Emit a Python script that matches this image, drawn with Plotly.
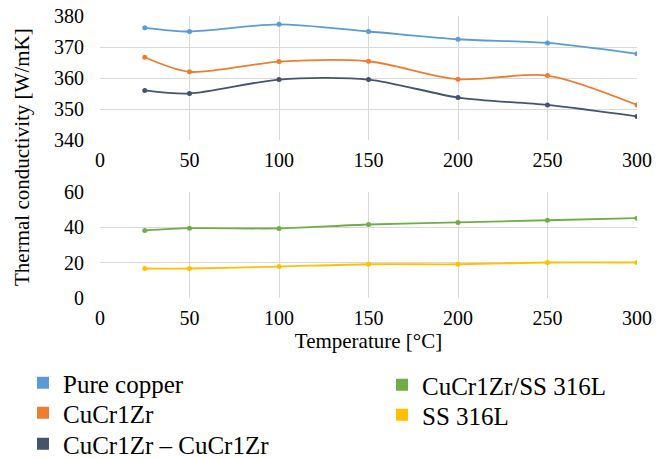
import plotly.graph_objects as go

temps = [25, 50, 100, 150, 200, 250, 300]
pure_copper = [376.2, 375.0, 377.3, 375.0, 372.5, 371.3, 367.8]
cucr1zr = [366.7, 362.0, 365.3, 365.4, 359.6, 360.8, 351.3]
cucr1zr_cucr1zr = [356.0, 355.0, 359.5, 359.5, 353.7, 351.3, 347.6]
cucr1zr_ss = [38.2, 39.5, 39.4, 41.6, 42.8, 44.0, 45.2]
ss316l = [16.7, 16.7, 17.8, 19.1, 19.1, 20.1, 20.1]
x_ticks = [0, 50, 100, 150, 200, 250, 300]
y_ticks_top = [340, 350, 360, 370, 380]
y_ticks_bottom = [0, 20, 40, 60]

top_series = [("Pure copper", pure_copper, "#5B9BD5"),
              ("CuCr1Zr", cucr1zr, "#ED7D31"),
              ("CuCr1Zr – CuCr1Zr", cucr1zr_cucr1zr, "#44546A")]
bot_series = [("CuCr1Zr/SS 316L", cucr1zr_ss, "#70AD47"),
              ("SS 316L", ss316l, "#FFC000")]

FONT = "Liberation Serif, Times New Roman, serif"
W, H = 665, 458
L, R = 100, 28
pw = W - L - R
def py(p):
    return 1 - p / H
def px(p):
    return (p - L) / pw

legend_slots = [(23, 383), (23, 413), (23, 444), (382, 385), (382, 415)]

fig = go.Figure()
all_series = [(s, "x", "y") for s in top_series] + [(s, "x2", "y2") for s in bot_series]
legends = {}
for i, ((name, vals, col), xa, ya) in enumerate(all_series):
    lg = "legend" if i == 0 else f"legend{i+1}"
    fig.add_trace(go.Scatter(x=temps, y=vals, mode="lines+markers",
                             line=dict(color=col, width=1.8, shape="spline", smoothing=0.8),
                             marker=dict(size=5, color=col), showlegend=False, xaxis=xa, yaxis=ya))
    fig.add_trace(go.Scatter(x=[None], y=[None], mode="markers", name=name,
                             marker=dict(symbol="square", size=10, color=col), legend=lg, xaxis=xa, yaxis=ya))
    lx, ly = legend_slots[i]
    legends[lg] = dict(x=px(lx), y=py(ly), xanchor="left", yanchor="middle",
                       font=dict(family=FONT, size=25, color="#000"), itemsizing="constant",
                       bgcolor="rgba(0,0,0,0)", borderwidth=0)

axfont = dict(family=FONT, size=20, color="#000")
grid = "#D9D9D9"
common_x = dict(range=[0, 300], tickvals=x_ticks, showgrid=True, gridcolor=grid,
                zeroline=False, showline=False, tickfont=axfont, ticks="outside", ticklen=2, tickcolor="white",
                automargin=False)
common_y = dict(showgrid=True, gridcolor=grid, zeroline=False, showline=False, tickfont=axfont,
                ticks="outside", ticklen=11, tickcolor="white", automargin=False)
fig.update_layout(
    width=W, height=H, margin=dict(l=L, r=R, t=0, b=0, autoexpand=False),
    paper_bgcolor="white", plot_bgcolor="white",
    font=dict(family=FONT, color="#000", size=20),
    xaxis=dict(domain=[0, 1], anchor="y", **common_x),
    yaxis=dict(domain=[py(140), py(16)], range=[340, 380], tickvals=y_ticks_top, anchor="x", **common_y),
    xaxis2=dict(domain=[0, 1], anchor="y2", title=dict(text="Temperature [°C]", font=dict(family=FONT, size=21), standoff=1), **common_x),
    yaxis2=dict(domain=[py(298), py(192)], range=[0, 60], tickvals=y_ticks_bottom, anchor="x2", **common_y),
    annotations=[dict(text="Thermal conductivity [W/mK]", textangle=-90, x=px(22), y=py(157), xref="paper", yref="paper",
                      showarrow=False, font=dict(family=FONT, size=21, color="#000"), xanchor="center", yanchor="middle")],
    **legends,
)
fig.write_html("out.html")
